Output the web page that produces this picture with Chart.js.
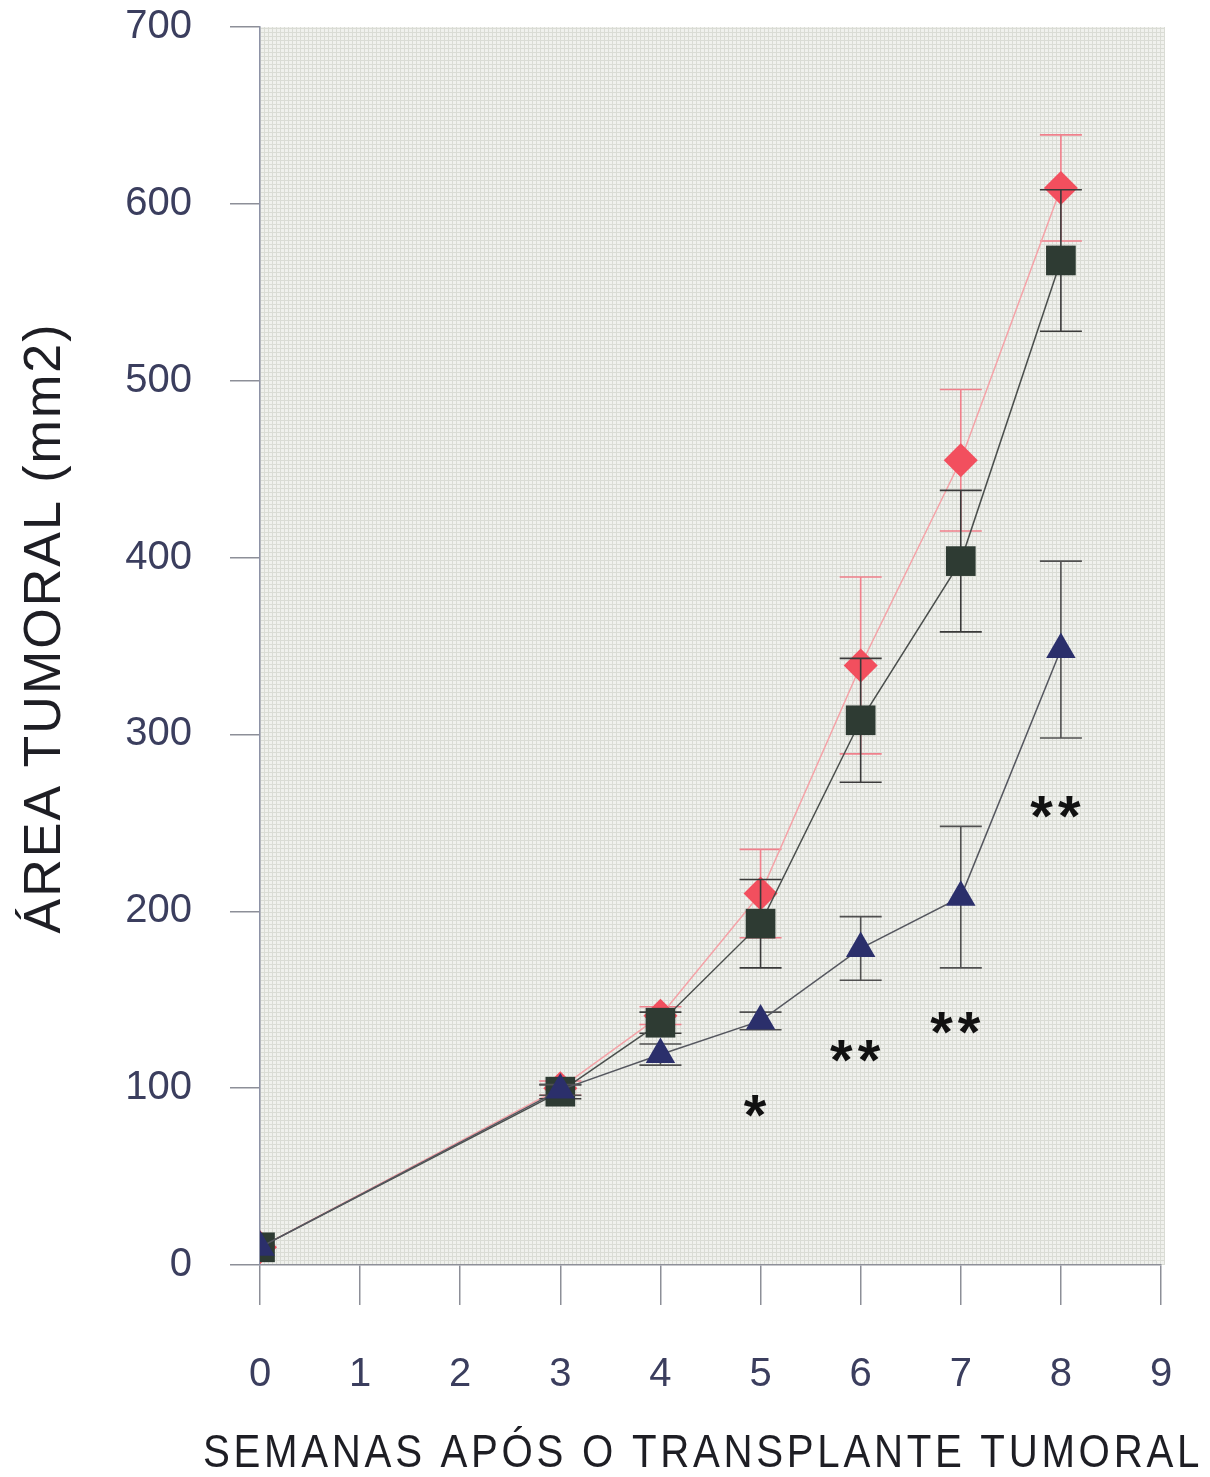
<!DOCTYPE html>
<html>
<head>
<meta charset="utf-8">
<script src="https://cdn.jsdelivr.net/npm/chart.js@4.4.1/dist/chart.umd.min.js"></script>
<style>
  html, body { margin: 0; padding: 0; background: #fff; }
  canvas { display: block; }
</style>
</head>
<body>
<canvas id="tumorChart" width="1210" height="1477"></canvas>
<script>
// semanas apos o transplante
var weeks = [0, 3, 4, 5, 6, 7, 8];
var xTickLabels = ['0', '1', '2', '3', '4', '5', '6', '7', '8', '9'];
var yTickLabels = ['0', '100', '200', '300', '400', '500', '600', '700'];

// area tumoral (mm2), media e erro
var diamondVals = [10, 100, 141, 210, 339, 455, 609];
var diamondErr  = [0, 4, 5, 25, 50, 40, 30];
var squareVals  = [10, 98, 137, 193, 308, 398, 568];
var squareErr   = [0, 4, 6, 25, 35, 40, 40];
var triangleVals = [10, 99, 119, 138, 179, 208, 348];
var triangleErr  = [0, 3, 6, 5, 18, 40, 50];

// significancia
var starWeeks = [5, 6, 7, 8];
var starY     = [90, 121, 137, 259];
var starText  = ['*', '**', '**', '**'];

var textColor = '#3b3e5e';
var errColors = ['#f0808c', '#3a3a3a', '#505050'];
var errSets = [diamondErr, squareErr, triangleErr];

function toPoints(vals) {
  return weeks.map(function (w, i) { return { x: w, y: vals[i] }; });
}

// fundo texturizado da area do grafico
function makePattern() {
  var c = document.createElement('canvas');
  c.width = 4; c.height = 4;
  var g = c.getContext('2d');
  g.fillStyle = '#f0f1ed';
  g.fillRect(0, 0, 4, 4);
  g.fillStyle = '#dadcd5';
  g.fillRect(0, 0, 4, 1);
  g.fillRect(0, 0, 1, 4);
  return g.createPattern(c, 'repeat');
}

var bgPlugin = {
  id: 'plotBg',
  beforeDraw: function (chart) {
    var a = chart.chartArea, ctx = chart.ctx;
    ctx.save();
    ctx.fillStyle = makePattern();
    ctx.fillRect(a.left, a.top, a.right - a.left + 4, a.bottom - a.top);
    ctx.restore();
  }
};

// espacamento das letras nos titulos dos eixos
// (o titulo x e mais largo que a area do grafico, entao alarga os limites so para o titulo)
var titleSpacing = { x: '4.2px', y: '2px' };
var titleSpan = { x: ['left', 'right', 203, 1203], y: ['top', 'bottom', -9, 1265] };
var spacingPlugin = {
  id: 'titleSpacing',
  beforeDraw: function (chart) {
    Object.keys(chart.scales).forEach(function (id) {
      var scale = chart.scales[id];
      if (scale._spaced) return;
      var orig = scale.drawTitle;
      scale.drawTitle = function () {
        var s = titleSpan[id];
        var a = this[s[0]], b = this[s[1]];
        this[s[0]] = s[2]; this[s[1]] = s[3];
        this.ctx.save();
        this.ctx.letterSpacing = titleSpacing[id] || '0px';
        orig.call(this);
        this.ctx.restore();
        this[s[0]] = a; this[s[1]] = b;
      };
      scale._spaced = true;
    });
  }
};

// barras de erro, desenhadas antes de cada serie
var errorBarPlugin = {
  id: 'errorBars',
  beforeDatasetDraw: function (chart, args) {
    var i = args.index;
    var errs = errSets[i];
    var ds = chart.data.datasets[i];
    var xs = chart.scales.x, ys = chart.scales.y, ctx = chart.ctx;
    ctx.save();
    ctx.strokeStyle = errColors[i];
    ctx.lineWidth = 1.6;
    ds.data.forEach(function (p, j) {
      if (!errs[j]) return;
      var px = xs.getPixelForValue(p.x);
      var top = ys.getPixelForValue(p.y + errs[j]);
      var bot = ys.getPixelForValue(p.y - errs[j]);
      ctx.beginPath();
      ctx.moveTo(px, top); ctx.lineTo(px, bot);
      ctx.moveTo(px - 21, top); ctx.lineTo(px + 21, top);
      ctx.moveTo(px - 21, bot); ctx.lineTo(px + 21, bot);
      ctx.stroke();
    });
    ctx.restore();
  }
};

var starPlugin = {
  id: 'stars',
  afterDatasetsDraw: function (chart) {
    var xs = chart.scales.x, ys = chart.scales.y, ctx = chart.ctx;
    ctx.save();
    ctx.fillStyle = '#111';
    ctx.font = 'bold 58px "Liberation Sans"';
    ctx.letterSpacing = '5px';
    ctx.textAlign = 'center';
    ctx.textBaseline = 'alphabetic';
    starWeeks.forEach(function (w, i) {
      var m = ctx.measureText(starText[i]);
      var off = (m.actualBoundingBoxAscent - m.actualBoundingBoxDescent) / 2;
      ctx.fillText(starText[i], xs.getPixelForValue(w) - 3, ys.getPixelForValue(starY[i]) + off);
    });
    ctx.restore();
  }
};

var data_diamond = {
  label: 'Grupo 1',
  data: toPoints(diamondVals),
  showLine: true,
  borderColor: '#f4a3a8',
  borderWidth: 1.5,
  pointStyle: 'rectRot',
  pointRadius: 17,
  pointBackgroundColor: '#f24f5e',
  pointBorderColor: '#f24f5e',
  pointBorderWidth: 0,
  order: 2
};

var data_square = {
  label: 'Grupo 2',
  data: toPoints(squareVals),
  showLine: true,
  borderColor: '#4a4e4c',
  borderWidth: 1.5,
  pointStyle: 'rect',
  pointRadius: 21,
  pointBackgroundColor: '#2e3b33',
  pointBorderColor: '#2e3b33',
  pointBorderWidth: 0,
  order: 1
};

var data_triangle = {
  label: 'Grupo 3',
  data: toPoints(triangleVals),
  showLine: true,
  borderColor: '#55575f',
  borderWidth: 1.5,
  pointStyle: 'triangle',
  pointRadius: 17,
  pointBackgroundColor: '#2b2f6b',
  pointBorderColor: '#2b2f6b',
  pointBorderWidth: 0,
  order: 0
};

var config = {
  type: 'scatter',
  data: { datasets: [data_diamond, data_square, data_triangle] },
  options: {
    responsive: false,
    animation: false,
    layout: { padding: { top: 27, right: 49, left: 0, bottom: 0 } },
    plugins: {
      legend: { display: false },
      tooltip: { enabled: false }
    },
    scales: {
      x: {
        type: 'linear',
        min: 0,
        max: 9,
        afterFit: function (scale) {
          scale.height = 212;
          scale.paddingLeft = 0;
          scale.paddingRight = 0;
        },
        grid: {
          drawOnChartArea: false,
          drawTicks: true,
          tickLength: 40,
          tickColor: '#8d8f98',
          lineWidth: 1.5
        },
        border: { display: true, color: '#8d8f98', width: 1.5 },
        ticks: {
          stepSize: 1,
          padding: 46,
          color: textColor,
          font: { family: '"Liberation Sans", Arial, sans-serif', size: 40 },
          callback: function (v, i) { return xTickLabels[i]; }
        },
        title: {
          display: true,
          text: 'SEMANAS APÓS O TRANSPLANTE TUMORAL',
          color: '#1e1e24',
          font: { family: '"Liberation Sans", Arial, sans-serif', size: 46, lineHeight: 1.0 },
          padding: { top: 0, bottom: 0 }
        }
      },
      y: {
        min: 0,
        max: 700,
        afterFit: function (scale) {
          scale.width = 260;
          scale.paddingTop = 0;
          scale.paddingBottom = 0;
        },
        grid: {
          drawOnChartArea: false,
          drawTicks: true,
          tickLength: 30,
          tickColor: '#8d8f98',
          lineWidth: 1.5
        },
        border: { display: true, color: '#8d92a6', width: 1.5 },
        ticks: {
          stepSize: 100,
          padding: 38,
          color: textColor,
          font: { family: '"Liberation Sans", Arial, sans-serif', size: 40 },
          callback: function (v, i) { return yTickLabels[i]; }
        },
        title: {
          display: true,
          text: 'ÁREA TUMORAL (mm2)',
          color: '#1e1e24',
          font: { family: '"Liberation Sans", Arial, sans-serif', size: 52 },
          padding: { top: 14, bottom: 0 }
        }
      }
    }
  },
  plugins: [bgPlugin, spacingPlugin, errorBarPlugin, starPlugin]
};

var chart = new Chart(document.getElementById('tumorChart'), config);
</script>
</body>
</html>
